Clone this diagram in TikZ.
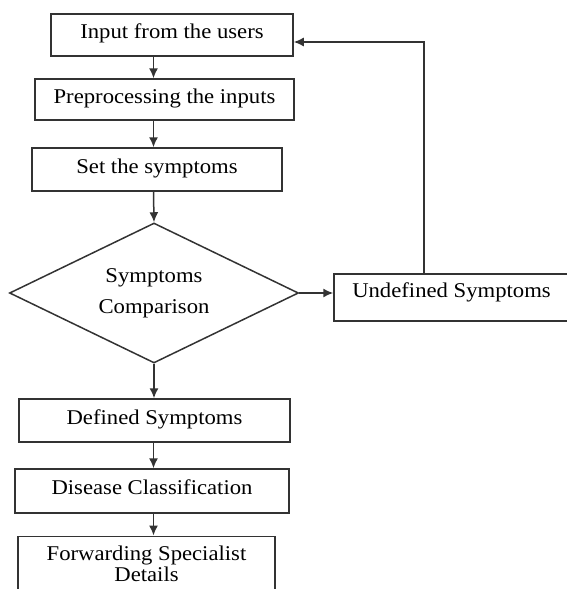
\documentclass[tikz,border=0pt]{standalone}
\usepackage{fontspec}
\setmainfont[FakeStretch=1.08]{Liberation Serif}
\usetikzlibrary{positioning, calc, arrows.meta, shapes.geometric}

\begin{document}
\begin{tikzpicture}[
    x=0.5pt, y=-0.5pt,
    block/.style={
        draw=black!80,
        line width=0.75pt,
        rectangle,
        inner sep=2pt
    },
    stepbox/.style={
        block,
        text height=8pt,
        text depth=4.5pt
    },
    decision/.style={
        draw=black!80,
        line width=0.75pt,
        diamond,
        shape aspect=2,
        inner sep=0pt,
        align=center,
        font=\fontsize{10.5}{15.5}\selectfont
    },
    arrow/.style={
        -{Latex[length=5pt, width=4.5pt]},
        draw=black!80,
        line width=0.75pt
    },
    font=\fontsize{10.5}{10.5}\selectfont
]

% Page frame (567 x 589 px)
\useasboundingbox (0,0) rectangle (567,589);

% Main column
\node[stepbox, minimum width=121pt, minimum height=21pt] (input) at (172,35) {Input from the users};
\node[stepbox, minimum width=129.5pt, minimum height=20.5pt] (prep) at (164.5,99.5) {Preprocessing the inputs};
\node[stepbox, minimum width=125pt, minimum height=21.5pt] (setsym) at (157,169.5) {Set the symptoms};
\node[decision, minimum width=144.5pt, minimum height=70pt] (cmp) at (154,293) {Symptoms\\Comparison};
\node[stepbox, minimum width=135.5pt, minimum height=21.5pt] (defined) at (154.5,420.5) {Defined Symptoms};
\node[stepbox, minimum width=137pt, minimum height=22pt] (disease) at (152,491) {Disease Classification};
\node[block, align=center, minimum width=128.5pt, minimum height=27.5pt, anchor=north] (fwd) at (146.5,535.5) {Forwarding Specialist\\Details};

% Side branch
\node[stepbox, text height=6pt, text depth=6pt, minimum width=117.5pt, minimum height=23.5pt] (undef) at (451.5,297.5) {Undefined Symptoms};

% Connectors
\coordinate (spine) at (153.5,0);
\draw[arrow] (input.south -| spine) -- (prep.north -| spine);
\draw[arrow] (prep.south -| spine) -- (setsym.north -| spine);
\draw[arrow] (setsym.south -| spine) -- (cmp.north);
\draw[arrow] (cmp.south) -- (defined.north -| cmp.south);
\draw[arrow] (defined.south -| spine) -- (disease.north -| spine);
\draw[arrow] (disease.south -| spine) -- (fwd.north -| spine);
\draw[arrow] (cmp.east) -- (cmp.east -| undef.west);

% Feedback loop
\coordinate (loop) at (424,42);
\draw[arrow] (undef.north -| loop) -- (loop) -- (input.east |- loop);

\end{tikzpicture}
\end{document}
